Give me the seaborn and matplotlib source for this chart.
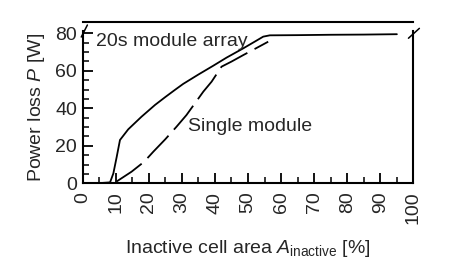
import numpy as np
import pandas as pd
import matplotlib
matplotlib.use('Agg')
import matplotlib.pyplot as plt
import seaborn as sns

# --- data ---
array_x = [4, 8.3, 9.3, 10.3, 11.3, 13.8, 17.8, 21.9, 25, 27.9, 30.4, 35, 39.5, 43.5, 48.6, 52, 54.6, 56.6, 65, 75, 85, 95]
array_y = [0, 0.5, 5.3, 14, 23.1, 28.8, 35.5, 41.8, 46, 49.8, 53, 58, 62.7, 67, 72, 75.5, 78.2, 78.9, 79.0, 79.2, 79.3, 79.5]

single_x = [10.3, 14.8, 18.6, 21.4, 25, 28.4, 31.4, 36.5, 39, 42, 45, 48.6, 52, 56.1]
single_y = [1.0, 6.2, 11.5, 16.9, 23.5, 30.2, 36.4, 48.9, 54.2, 62.2, 64.9, 68.4, 71.6, 75.5]

x_ticks = list(range(0, 101, 10))
y_ticks = [0, 20, 40, 60, 80]

sns.set_style('ticks')
plt.rcParams['font.family'] = ['Liberation Sans', 'DejaVu Sans']
plt.rcParams['mathtext.fontset'] = 'custom'
plt.rcParams['mathtext.rm'] = 'Liberation Sans'
plt.rcParams['mathtext.it'] = 'Liberation Sans:italic'

fig = plt.figure(figsize=(4.64, 2.72), dpi=100)
ax = fig.add_axes([0.178, 0.326, 0.713, 0.5586])

df_a = pd.DataFrame({'x': array_x, 'y': array_y})
df_s = pd.DataFrame({'x': single_x, 'y': single_y})
sns.lineplot(data=df_a, x='x', y='y', ax=ax, color='black', lw=1.3, sort=False)
sns.lineplot(data=df_s, x='x', y='y', ax=ax, color='black', lw=1.3, sort=False,
             linestyle=(0, (17, 4.5)))

ax.set_xlim(0, 100)
ax.set_ylim(0, 81)
ax.set_xticks(x_ticks)
ax.set_xticklabels([str(t) for t in x_ticks], rotation=90, fontsize=14)
ax.set_xticks(np.arange(5, 100, 10), minor=True)
ax.set_yticks(y_ticks)
ax.set_yticklabels([str(t) for t in y_ticks], fontsize=14)
ax.set_yticks(np.arange(5, 81, 5), minor=True)
ax.tick_params(which='major', direction='in', length=7, width=1.3, color='black')
ax.tick_params(which='minor', direction='in', length=4, width=1.1, color='black')
ax.tick_params(axis='x', which='major', pad=6)
ax.tick_params(axis='y', which='major', pad=4)

for s in ['left', 'bottom', 'right']:
    ax.spines[s].set_linewidth(1.5)
    ax.spines[s].set_color('black')
ax.spines['top'].set_visible(False)

ax.set_xlabel(r'Inactive cell area $\mathit{A}_{\mathrm{inactive}}$ [%]', fontsize=14, labelpad=10)
ax.set_ylabel(r'Power loss $\mathit{P}$ [W]', fontsize=14, labelpad=6)

ax.text(4.2, 75.4, '20s module array', fontsize=14, ha='left', va='center')
ax.text(31.9, 30.2, 'Single module', fontsize=14, ha='left', va='center')

# axis break marks
ax.plot([-0.004, 0.0145], [0.963, 1.042], transform=ax.transAxes, color='black', lw=1.1, clip_on=False)
ax.plot([0.985, 1.018], [0.955, 1.02], transform=ax.transAxes, color='black', lw=1.1, clip_on=False)

# upper part of the broken axis: only its top edge is left
ax_top = fig.add_axes([0.178, 0.90, 0.713, 0.02])
ax_top.set_xlim(0, 100)
for s in ['left', 'bottom', 'right']:
    ax_top.spines[s].set_visible(False)
ax_top.spines['top'].set_linewidth(1.5)
ax_top.spines['top'].set_color('black')
ax_top.set_xticks([])
ax_top.set_yticks([])
ax_top.patch.set_alpha(0)

fig.savefig('out.png', dpi=100)
